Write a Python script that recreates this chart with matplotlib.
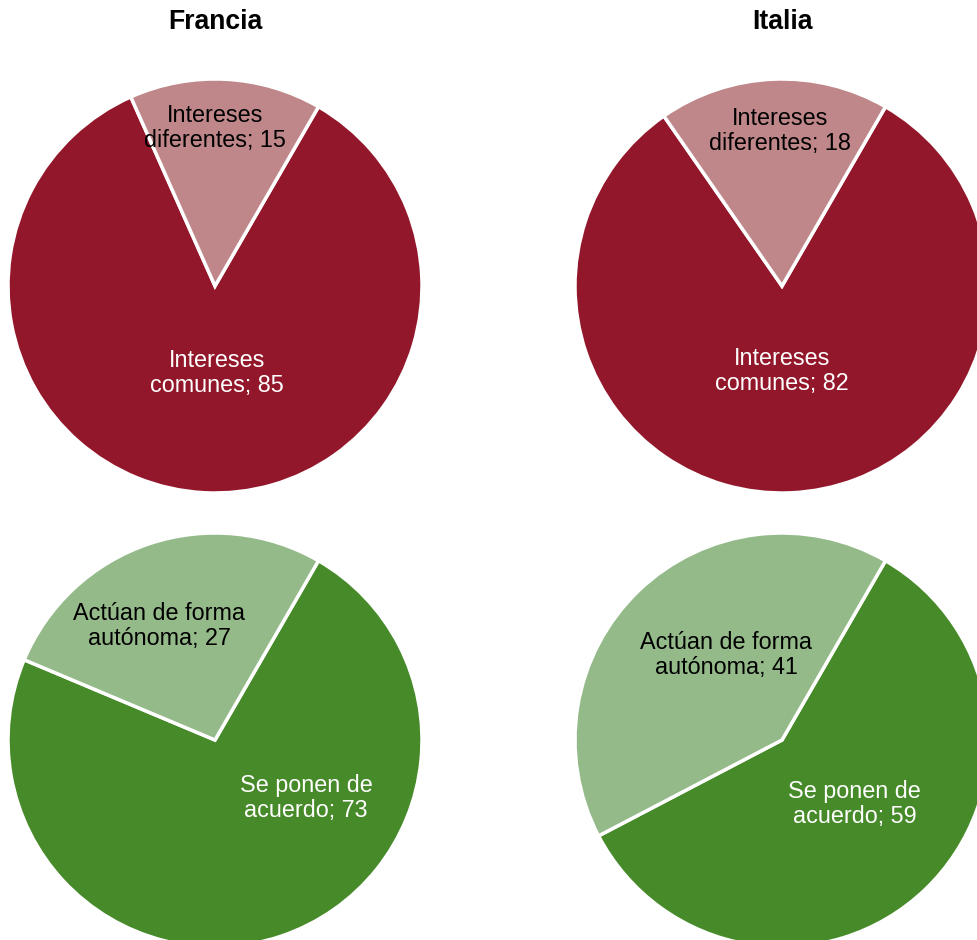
import matplotlib.pyplot as plt

plt.rcParams["font.family"] = ["Liberation Sans", "DejaVu Sans"]

countries = ["Francia", "Italia"]

# top row: interests
interest_labels = ["Intereses\ncomunes", "Intereses\ndiferentes"]
interest_values = {"Francia": [85, 15], "Italia": [82, 18]}

# bottom row: behaviour
action_labels = ["Se ponen de\nacuerdo", "Actúan de forma\nautónoma"]
action_values = {"Francia": [73, 27], "Italia": [59, 41]}

RED = ["#93172A", "#BF8789"]
GREEN = ["#478A29", "#94BA89"]

W, H = 977, 940
fig = plt.figure(figsize=(W / 100, H / 100), dpi=100)
fig.patch.set_facecolor("white")

R = 207
centers_x = {"Francia": 215, "Italia": 782}
centers_y = [286, 740]

# label offsets in pie-radius units: (main slice, minor slice)
label_pos = {
    ("Francia", 0): [(0.01, -0.42), (0.0, 0.765)],
    ("Italia", 0): [(0.0, -0.41), (-0.01, 0.75)],
    ("Francia", 1): [(0.44, -0.28), (-0.27, 0.55)],
    ("Italia", 1): [(0.35, -0.31), (-0.27, 0.41)],
}


def pie_axes(cx, cy):
    return fig.add_axes([(cx - R) / W, 1 - (cy + R) / H, 2 * R / W, 2 * R / H])


for c in countries:
    for row, (labels, values, colors) in enumerate([
        (interest_labels, interest_values[c], RED),
        (action_labels, action_values[c], GREEN),
    ]):
        ax = pie_axes(centers_x[c], centers_y[row])
        ax.pie(values, colors=colors, startangle=60, counterclock=False,
               radius=1, wedgeprops=dict(edgecolor="white", linewidth=2.5))
        ax.set_xlim(-1, 1)
        ax.set_ylim(-1, 1)
        ax.set_aspect("equal")
        ax.axis("off")
        for (x, y), lab, val, tc in zip(label_pos[(c, row)], labels, values,
                                        ["white", "black"]):
            ax.text(x, y, f"{lab}; {val}", ha="center", va="center",
                    fontsize=16.8, color=tc, linespacing=1.12)

    fig.text(centers_x[c] / W, 1 - 22 / H, c, ha="center", va="center",
             fontsize=19.2, fontweight="bold")

fig.savefig("out.png", dpi=100, facecolor="white")
